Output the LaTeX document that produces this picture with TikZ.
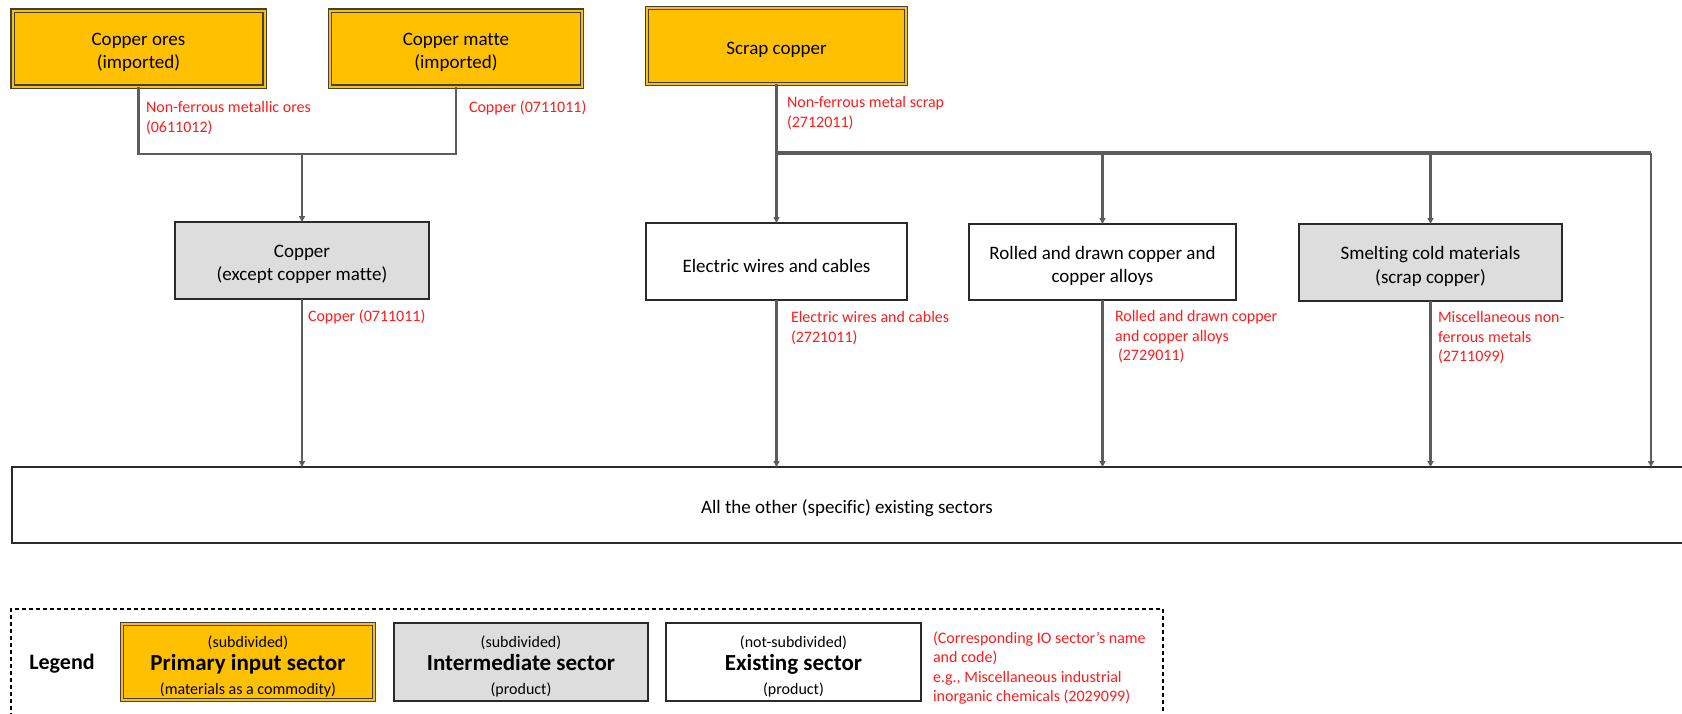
\documentclass[tikz,border=0pt]{standalone}
\usepackage{fontspec}
\setmainfont{Carlito}[Ligatures=NoCommon]
\usetikzlibrary{arrows.meta}
\definecolor{primaryfill}{HTML}{FFC000}
\definecolor{midfill}{HTML}{DDDDDD}
\definecolor{wire}{HTML}{5C5C5C}
\definecolor{codered}{HTML}{FF1C1C}
\definecolor{edge}{HTML}{2A2A2A}
\definecolor{outeredge}{HTML}{404040}

\begin{document}
\begin{tikzpicture}[x=1pt,y=-1pt,
  every node/.style={inner sep=0pt, outer sep=0pt},
  sector/.style={draw=edge, line width=1.5pt},
  exist/.style={sector, fill=white},
  inter/.style={sector, fill=midfill},
  primary/.style={sector, fill=primaryfill, draw=outeredge,
    double=primaryfill, line width=1.2pt, double distance=2pt},
  boxtext/.style={align=center, font=\fontsize{19}{23.5}\selectfont},
  keytext/.style={align=center, font=\fontsize{16}{23.5}\selectfont},
  codelabel/.style={text=codered, align=left, anchor=west,
    font=\fontsize{16}{19.5}\selectfont},
  link/.style={draw=wire, line width=2.2pt},
  buswire/.style={draw=wire, line width=3.4pt},
  arrow/.style={link, -{Triangle[length=6pt,width=6pt]}},
  frame/.style={draw=black, line width=1.2pt, dash pattern=on 4pt off 3pt}
]
\path[use as bounding box, fill=white] (0,0) rectangle (1682,713);

% sector boxes
\node[primary, minimum width=252, minimum height=76] (ores) at (138.5,48.5) {};
\node[primary, minimum width=252, minimum height=76] (matte) at (456,48.5) {};
\node[primary, minimum width=259, minimum height=76] (scrap) at (776.5,46) {};
\node[inter, minimum width=254, minimum height=77] (copper) at (302,260.5) {};
\node[exist, minimum width=261, minimum height=77] (wires) at (776.5,261.5) {};
\node[exist, minimum width=267, minimum height=76] (rolled) at (1102.5,262) {};
\node[inter, minimum width=263, minimum height=77] (smelt) at (1430.5,262.5) {};
\node[exist, minimum width=1678, minimum height=76] (others) at (851,505) {};

% sector names
\node[boxtext] (orestext) at ([yshift=-4pt]ores.center) {Copper ores\\(imported)};
\node[boxtext] (mattetext) at ([yshift=-4pt]matte.center) {Copper matte\\(imported)};
\node[boxtext] (scraptext) at ([yshift=-4pt]scrap.center) {Scrap copper};
\node[boxtext] (coppertext) at ([yshift=-4pt]copper.center) {Copper\\(except copper matte)};
\node[boxtext] (wirestext) at ([yshift=-4pt]wires.center) {Electric wires and cables};
\node[boxtext] (rolledtext) at ([yshift=-4pt]rolled.center) {Rolled and drawn copper and\\copper alloys};
\node[boxtext] (smelttext) at ([yshift=-4pt]smelt.center) {Smelting cold materials\\(scrap copper)};
\node[boxtext] (otherstext) at ([xshift=-4pt,yshift=-3pt]others.center) {All the other (specific) existing sectors};

% imported inputs merge into copper
\coordinate (merge) at (302,154);
\draw[link] (ores.south) |- (merge);
\draw[link] (matte.south) |- (merge);
\draw[arrow] (merge) -- (copper.north);
\draw[arrow] (copper.south) -- (copper.south |- others.north);

% scrap copper distribution bus
\coordinate (bus) at (776.5,153);
\coordinate (busend) at (1651,153);
\draw[link] (scrap.south) -- (bus);
\draw[buswire] (bus) -- (busend);
\draw[arrow] (bus) -- (wires.north);
\draw[arrow] (rolled.north |- bus) -- (rolled.north);
\draw[arrow] (smelt.north |- bus) -- (smelt.north);
\draw[arrow] (busend) -- (busend |- others.north);

% outputs into the other sectors
\draw[arrow] (wires.south) -- (wires.south |- others.north);
\draw[arrow] (rolled.south) -- (rolled.south |- others.north);
\draw[arrow] (smelt.south) -- (smelt.south |- others.north);

% IO sector codes
\node[codelabel] (codeores) at (146,118) {Non-ferrous metallic ores\\(0611012)};
\node[codelabel] (codematte) at (469,108) {Copper (0711011)};
\node[codelabel] (codecopper) at (308,317) {Copper (0711011)};
\node[codelabel] (codescrap) at (787,113) {Non-ferrous metal scrap\\(2712011)};
\node[codelabel] (codewires) at (791,328) {Electric wires and cables\\(2721011)};
\node[codelabel] (coderolled) at (1115,337) {Rolled and drawn copper\\and copper alloys\\\hspace{3pt}(2729011)};
\node[codelabel] (codesmelt) at (1438,338) {Miscellaneous non-\\ferrous metals\\(2711099)};

% legend
\node[frame, minimum width=1152, minimum height=112, anchor=north west] (legendframe) at (11,609) {};
\node[font=\bfseries\fontsize{22}{26}\selectfont] (legendtitle) at (62,664) {Legend};
\node[primary, minimum width=252, minimum height=76] (keyprimary) at (248,662) {};
\node[inter, minimum width=254, minimum height=78] (keyinter) at (521,662) {};
\node[exist, minimum width=255, minimum height=78] (keyexist) at (793.5,662) {};
\node[keytext] (keyprimarytext) at ([yshift=-4pt]keyprimary.center)
  {(subdivided)\\{\fontsize{23}{23.5}\selectfont\bfseries Primary input sector}\\(materials as a commodity)};
\node[keytext] (keyintertext) at ([yshift=-4pt]keyinter.center)
  {(subdivided)\\{\fontsize{23}{23.5}\selectfont\bfseries Intermediate sector}\\(product)};
\node[keytext] (keyexisttext) at ([yshift=-4pt]keyexist.center)
  {(not-subdivided)\\{\fontsize{23}{23.5}\selectfont\bfseries Existing sector}\\(product)};
\node[codelabel] (keycode) at (933,668) {(Corresponding IO sector’s name\\and code)\\e.g., Miscellaneous industrial\\inorganic chemicals (2029099)};
\end{tikzpicture}
\end{document}
